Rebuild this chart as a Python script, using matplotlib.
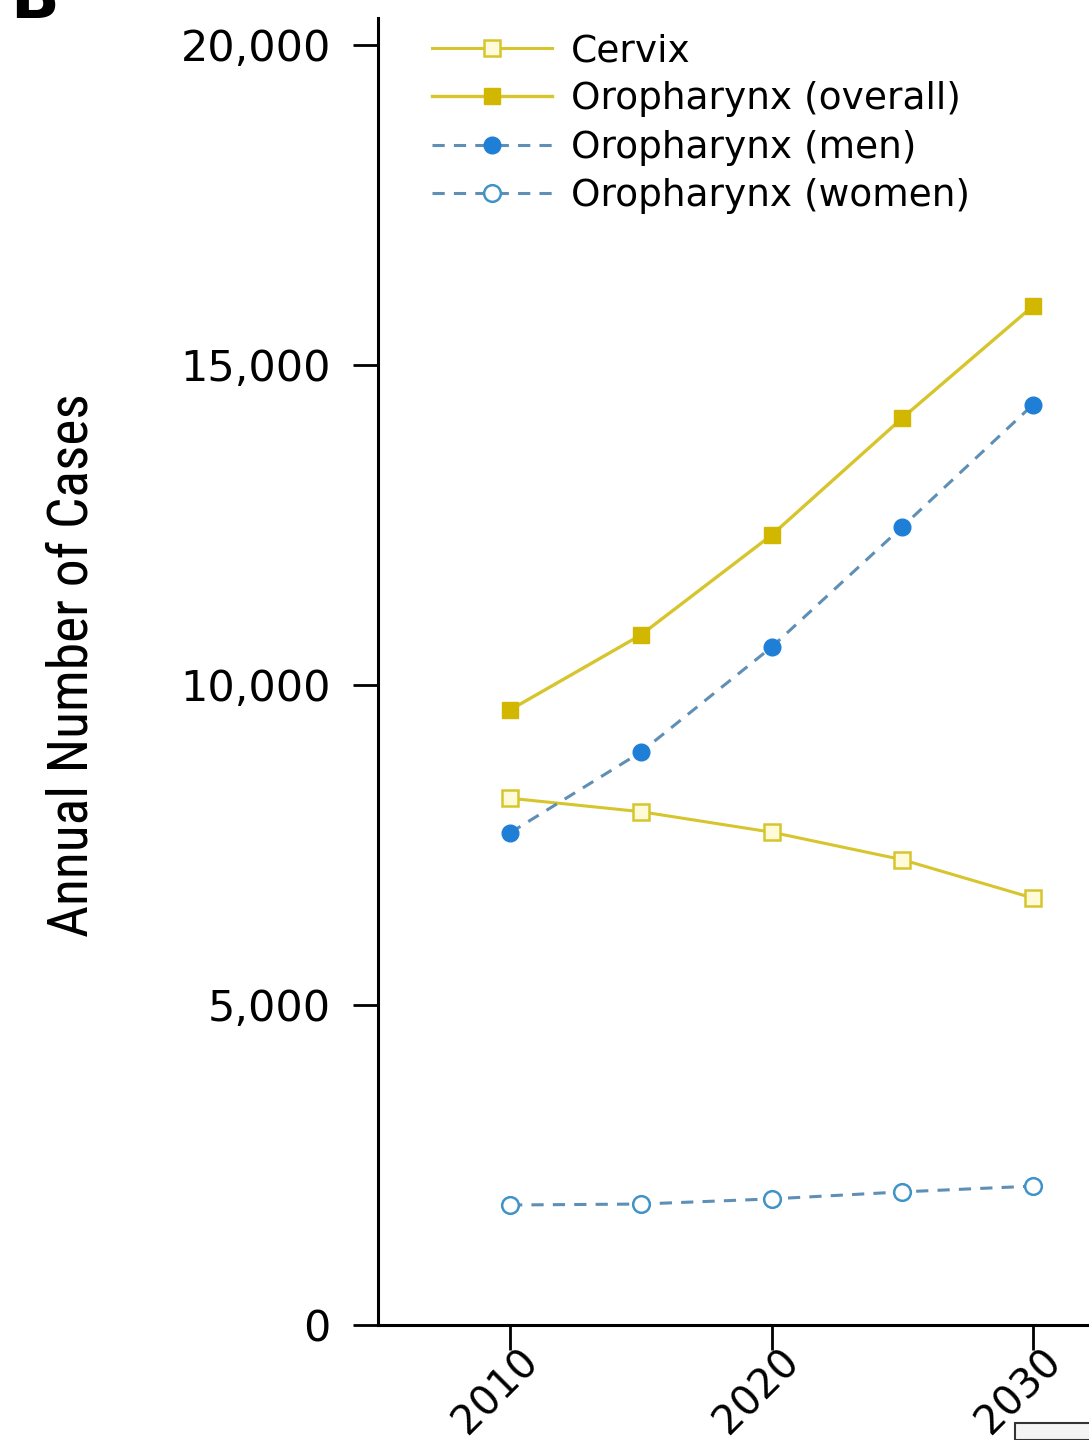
import numpy as np
import matplotlib
matplotlib.use("Agg")
import matplotlib.pyplot as plt
import matplotlib.transforms as mtransforms
from matplotlib.patches import Rectangle

years = [2010, 2015, 2020, 2025, 2030]
cervix = [8230, 8020, 7700, 7270, 6670]
oro_overall = [9610, 10780, 12340, 14170, 15920]
oro_men = [7690, 8950, 10590, 12470, 14380]
oro_women = [1875, 1890, 1970, 2080, 2170]

yticks = [0, 5000, 10000, 15000, 20000]
ytick_labels = ["0", "5,000", "10,000", "15,000", "20,000"]
xticks = [2010, 2020, 2030]

yellow = "#d6c52c"
yellow_dark = "#d2b700"
blue = "#1f7fd6"
blue_line = "#5f8fb5"
blue_edge = "#3f93c9"

fig = plt.figure(figsize=(10.89, 14.4), dpi=100)
ax = fig.add_axes([378 / 1089, 115 / 1440, 1 - 378 / 1089, (1325 - 18) / 1440])

ax.plot(years, cervix, color=yellow, lw=2.2, marker="s", ms=12,
        mfc="#fffbd8", mec=yellow, mew=1.8, label="Cervix")
ax.plot(years, oro_overall, color=yellow, lw=2.4, marker="s", ms=12,
        mfc=yellow_dark, mec=yellow_dark, label="Oropharynx (overall)")
ax.plot(years, oro_men, color=blue_line, lw=2.2, ls=(0, (4, 3)), marker="o", ms=12,
        mfc=blue, mec=blue, label="Oropharynx (men)")
ax.plot(years, oro_women, color=blue_line, lw=2.2, ls=(0, (4, 3)), marker="o", ms=12,
        mfc="white", mec=blue_edge, mew=1.8, label="Oropharynx (women)")

ax.set_xlim(2004.95, 2032.14)
ax.set_ylim(0, 20420)
ax.set_yticks(yticks)
ax.set_yticklabels(ytick_labels)
ax.set_xticks(xticks)

for s in ["top", "right"]:
    ax.spines[s].set_visible(False)
for s in ["left", "bottom"]:
    ax.spines[s].set_linewidth(2.2)

ax.tick_params(axis="both", direction="out", length=18, width=2)
ax.tick_params(axis="y", pad=16, labelsize=31)
ax.tick_params(axis="x", pad=4)

ax.set_xticklabels([str(x) for x in xticks], rotation=45, ha="right", va="center",
                   rotation_mode="anchor", fontsize=29)
# nudge the rotated year labels to the right like the original
shift = mtransforms.ScaledTranslation(22 / 100, 0, fig.dpi_scale_trans)
for lbl in ax.get_xticklabels():
    lbl.set_transform(lbl.get_transform() + shift)

ax.set_ylabel("Annual Number of Cases", family=["Roboto Condensed", "DejaVu Sans"],
              fontstretch="condensed", fontsize=40)
ax.yaxis.set_label_coords(-0.393, 0.505)

leg = ax.legend(loc="upper left", bbox_to_anchor=(0.055, 1.0), frameon=False,
                fontsize=27, handlelength=3.2, handletextpad=0.5,
                labelspacing=0.33, borderaxespad=0.0)

fig.text(0.032, 1.0, "B", fontsize=46, weight="bold", ha="center", va="center")

fig.patches.append(Rectangle((1015 / 1089, 0), 0.1, 17 / 1440, transform=fig.transFigure,
                             facecolor="#f4f4f4", edgecolor="#333333", lw=1.5))

fig.savefig("out.png", dpi=100)
